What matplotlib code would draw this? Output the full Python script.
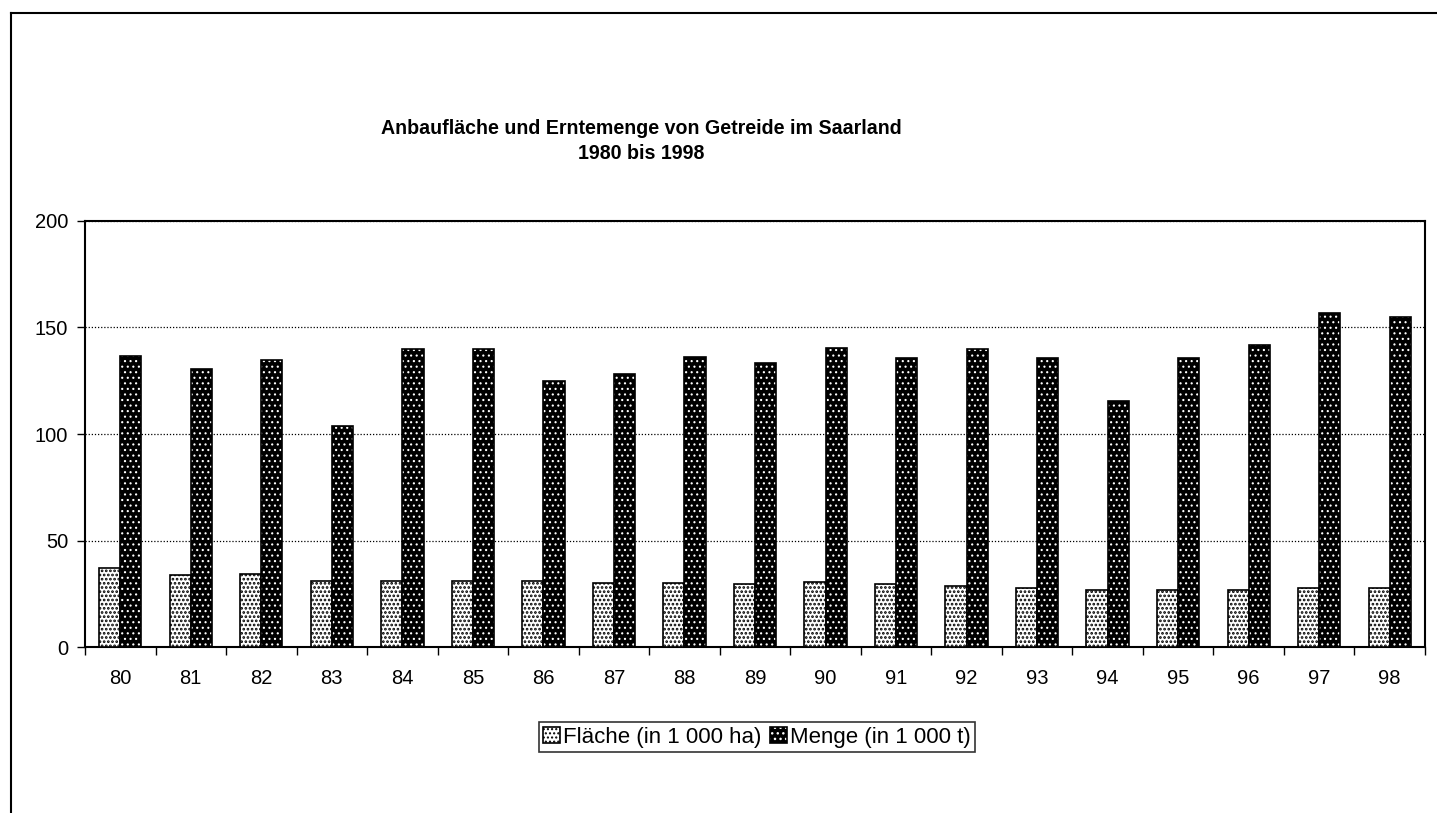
import numpy as np
import matplotlib.pyplot as plt
from matplotlib.patches import Patch
from matplotlib.lines import Line2D
from matplotlib.legend_handler import HandlerTuple

plt.rcParams['font.family'] = ['Liberation Sans', 'DejaVu Sans']

# data
years = ['80', '81', '82', '83', '84', '85', '86', '87', '88', '89',
         '90', '91', '92', '93', '94', '95', '96', '97', '98']
flaeche = [36.9, 34.0, 34.1, 31.1, 31.1, 31.1, 31.2, 30.1, 30.1, 29.4,
           30.3, 29.4, 28.7, 27.8, 26.9, 26.9, 26.9, 27.8, 27.8]
menge = [136.7, 130.5, 134.7, 103.6, 139.9, 140.0, 124.9, 128.2, 136.3, 133.3,
         140.6, 135.7, 139.9, 135.8, 115.5, 135.8, 141.7, 157.0, 155.0]
yticks = [0, 50, 100, 150, 200]
title = 'Anbaufläche und Erntemenge von Getreide im Saarland\n1980 bis 1998'
lab_fl = 'Fläche (in 1 000 ha)'
lab_me = 'Menge (in 1 000 t)'

W, H = 1437, 813
fig = plt.figure(figsize=(W / 100, H / 100), dpi=100)
ax = fig.add_axes([85 / W, 1 - 647 / H, (1425 - 85) / W, (647 - 221) / H])

x = np.arange(len(years))
bw = 0.30

# Flaeche: white with black dots
with plt.rc_context({'hatch.linewidth': 1.3}):
    ax.bar(x - bw / 2, flaeche, bw, facecolor='white', edgecolor='black',
           hatch='....', linewidth=1.2, zorder=3)
    h_fl = Patch(facecolor='white', edgecolor='black', hatch='....',
                 linewidth=1.2)
# Menge: black with small white dots, then black outline on top
with plt.rc_context({'hatch.linewidth': 0.8}):
    ax.bar(x + bw / 2, menge, bw, facecolor='black', edgecolor='white',
           hatch='...', linewidth=0, zorder=3)
    h_me = Patch(facecolor='black', edgecolor='white', hatch='...',
                 linewidth=0)
ax.bar(x + bw / 2, menge, bw, fill=False, edgecolor='black',
       linewidth=1.2, zorder=4)
h_me_edge = Patch(fill=False, edgecolor='black', linewidth=1.2)

ax.set_xlim(-0.5, len(years) - 0.5)
ax.set_ylim(0, 200)
ax.set_yticks(yticks)
ax.set_xticks(x)
ax.set_xticklabels(years)
ax.set_xticks(np.arange(len(years) + 1) - 0.5, minor=True)
ax.tick_params(axis='x', which='major', length=0, labelsize=14.5, pad=16)
ax.tick_params(axis='x', which='minor', length=6, width=1, direction='out')
ax.tick_params(axis='y', length=6, width=1, labelsize=14.5, pad=6)

ax.yaxis.grid(True, linestyle=(0, (1, 1.5)), color='black', linewidth=0.9)
ax.set_axisbelow(True)
for s in ax.spines.values():
    s.set_linewidth(1.5)
    s.set_color('black')

fig.text(641 / W, 1 - 141 / H, title, ha='center', va='center',
         fontsize=14.1, fontweight='bold', linespacing=1.38)

leg = fig.legend([h_fl, (h_me, h_me_edge)], [lab_fl, lab_me], loc='center',
                 bbox_to_anchor=(757 / W, 1 - 737 / H), ncol=2, fontsize=16,
                 frameon=True, fancybox=False, handlelength=0.75,
                 handleheight=0.75, handletextpad=0.15, columnspacing=0.4,
                 borderpad=0.2, borderaxespad=0,
                 handler_map={tuple: HandlerTuple(ndivide=1)})
leg.get_frame().set_edgecolor('black')
leg.get_frame().set_linewidth(1.2)

# outer chart frame, cut off at right and bottom
fig.add_artist(Line2D([11 / W, 11 / W], [0, 1 - 13 / H], color='black',
                      linewidth=1.5, transform=fig.transFigure))
fig.add_artist(Line2D([11 / W, 1], [1 - 13 / H, 1 - 13 / H], color='black',
                      linewidth=1.5, transform=fig.transFigure))

fig.savefig('out.png', dpi=100, facecolor='white')
